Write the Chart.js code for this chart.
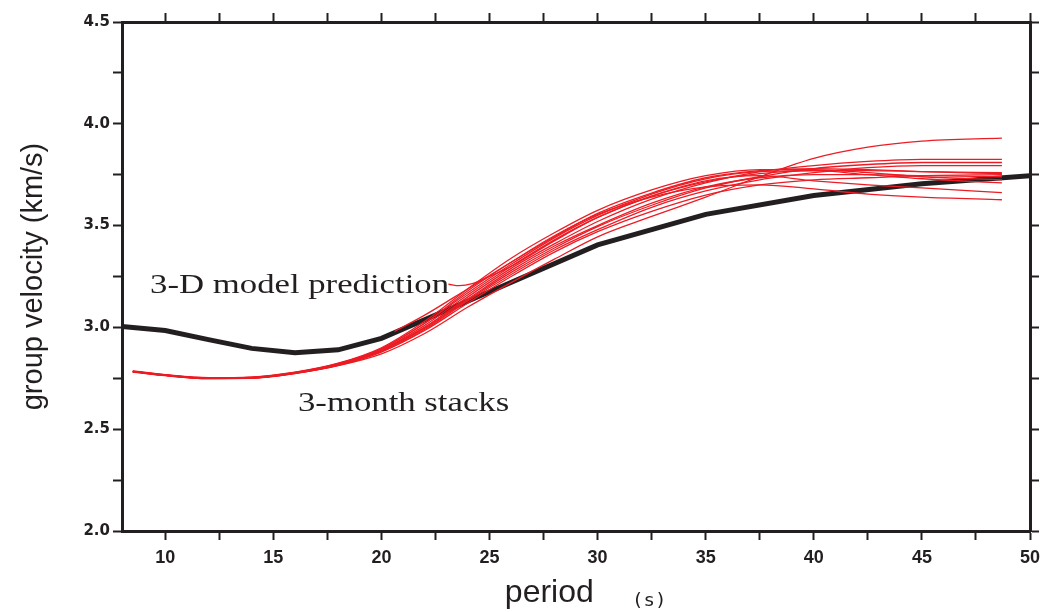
<!DOCTYPE html>
<html>
<head>
<meta charset="utf-8">
<script src="https://cdn.jsdelivr.net/npm/chart.js@4"></script>
<style>
  body { margin: 0; background: #fff; }
</style>
</head>
<body>
<canvas id="myChart" width="1049" height="612"></canvas>
<script>
const ctx = document.getElementById('myChart');

const INK = '#231f20';
const RED = '#ec1c24';

// 3-D model prediction
const modelPeriods = [8, 10, 12, 14, 16, 18, 20, 25, 30, 35, 40, 45, 50];
const modelVelocity = [3.005, 2.985, 2.94, 2.897, 2.875, 2.89, 2.946, 3.175, 3.405, 3.555, 3.648, 3.705, 3.745];

// 3-month stacks, common period grid
const stackPeriods = [8.5, 10, 12, 14, 16, 18, 20, 22, 24, 26, 28, 30, 32.5, 35, 37.5, 40, 42.5, 45, 48.7];
const stack1  = [2.783, 2.765, 2.750, 2.752, 2.775, 2.812, 2.870, 2.970, 3.100, 3.220, 3.335, 3.445, 3.545, 3.640, 3.740, 3.830, 3.885, 3.915, 3.930];
const stack2  = [2.784, 2.766, 2.751, 2.754, 2.778, 2.820, 2.890, 3.000, 3.150, 3.290, 3.410, 3.520, 3.630, 3.710, 3.765, 3.795, 3.815, 3.825, 3.825];
const stack3  = [2.782, 2.764, 2.749, 2.751, 2.774, 2.815, 2.880, 2.990, 3.130, 3.260, 3.380, 3.480, 3.590, 3.670, 3.725, 3.760, 3.785, 3.795, 3.795];
const stack4  = [2.785, 2.767, 2.752, 2.755, 2.779, 2.822, 2.895, 3.020, 3.180, 3.320, 3.450, 3.555, 3.640, 3.690, 3.700, 3.680, 3.655, 3.640, 3.627];
const stack5  = [2.783, 2.765, 2.751, 2.753, 2.777, 2.820, 2.890, 3.010, 3.160, 3.300, 3.430, 3.540, 3.645, 3.720, 3.745, 3.720, 3.700, 3.685, 3.662];
const stack6  = [2.782, 2.764, 2.750, 2.752, 2.776, 2.817, 2.885, 3.000, 3.140, 3.280, 3.400, 3.500, 3.610, 3.690, 3.735, 3.750, 3.750, 3.745, 3.740];
const stack7  = [2.786, 2.768, 2.753, 2.756, 2.780, 2.824, 2.900, 3.030, 3.190, 3.340, 3.465, 3.575, 3.675, 3.745, 3.775, 3.775, 3.760, 3.740, 3.725];
const stack8  = [2.784, 2.766, 2.752, 2.754, 2.778, 2.822, 2.895, 3.020, 3.170, 3.310, 3.440, 3.550, 3.655, 3.730, 3.765, 3.770, 3.750, 3.730, 3.710];
const stack9  = [2.781, 2.763, 2.749, 2.750, 2.773, 2.813, 2.880, 2.985, 3.120, 3.250, 3.370, 3.470, 3.570, 3.650, 3.700, 3.725, 3.735, 3.745, 3.750];
const stack10 = [2.783, 2.765, 2.750, 2.752, 2.776, 2.816, 2.885, 2.995, 3.135, 3.270, 3.390, 3.495, 3.600, 3.685, 3.740, 3.780, 3.800, 3.810, 3.810];

// two shorter stacks that start later
const stack11Periods = [20.6, 22, 24, 26, 28, 30, 32.5, 35, 37.5, 40, 42.5, 45, 48.7];
const stack11 = [2.980, 3.060, 3.190, 3.320, 3.445, 3.560, 3.660, 3.735, 3.770, 3.780, 3.775, 3.765, 3.755];
const stack12Periods = [23.1, 23.6, 24.2, 25, 26, 28, 30, 32.5, 35, 37.5, 40, 42.5, 45, 48.7];
const stack12 = [3.212, 3.205, 3.215, 3.250, 3.300, 3.425, 3.540, 3.645, 3.715, 3.755, 3.770, 3.770, 3.765, 3.760];

const xTicksMajor = [10, 15, 20, 25, 30, 35, 40, 45, 50];
const yTicksMajor = [2.0, 2.5, 3.0, 3.5, 4.0, 4.5];

function pts(xs, ys) {
  const out = [];
  for (let i = 0; i < xs.length; i++) {
    out.push({ x: xs[i], y: ys[i] });
  }
  return out;
}

const stacks = [
  [stackPeriods, stack1], [stackPeriods, stack2], [stackPeriods, stack3],
  [stackPeriods, stack4], [stackPeriods, stack5], [stackPeriods, stack6],
  [stackPeriods, stack7], [stackPeriods, stack8], [stackPeriods, stack9],
  [stackPeriods, stack10], [stack11Periods, stack11], [stack12Periods, stack12]
];

const datasets = [];
for (let i = 0; i < stacks.length; i++) {
  datasets.push({
    label: 'stack ' + (i + 1),
    data: pts(stacks[i][0], stacks[i][1]),
    borderColor: RED,
    borderWidth: 1.3,
    pointRadius: 0,
    cubicInterpolationMode: 'monotone',
    fill: false
  });
}
datasets.push({
  label: '3-D model prediction',
  data: pts(modelPeriods, modelVelocity),
  borderColor: INK,
  borderWidth: 5,
  pointRadius: 0,
  tension: 0,
  fill: false
});

// text on the plot
function stretchedText(c, text, x, y, font, sx) {
  c.save();
  c.font = font;
  c.fillStyle = INK;
  c.textBaseline = 'alphabetic';
  c.textAlign = 'left';
  c.translate(x, y);
  c.scale(sx, 1);
  c.fillText(text, 0, 0);
  c.restore();
}

const textLabels = {
  id: 'textLabels',
  afterDraw(chart) {
    const c = chart.ctx;
    const xs = chart.scales.x;
    const ys = chart.scales.y;
    stretchedText(c, '3-D model prediction', xs.getPixelForValue(9.3), ys.getPixelForValue(3.167), '28px "Liberation Serif"', 1.24);
    stretchedText(c, '3-month stacks', xs.getPixelForValue(16.14), ys.getPixelForValue(2.59), '28px "Liberation Serif"', 1.24);
    stretchedText(c, '(s)', 632, 606, '17px "DejaVu Sans Mono"', 1.12);
  }
};

const isMajor = (v, list) => list.some(m => Math.abs(m - v) < 1e-6);

const frameGrid = {
  drawOnChartArea: false,
  drawTicks: true,
  tickLength: 9,
  tickWidth: 2,
  tickColor: INK
};
const frameBorder = { display: true, width: 3, color: INK };

const myChart = new Chart(ctx, {
  type: 'line',
  data: { datasets: datasets },
  options: {
    responsive: false,
    animation: false,
    layout: { padding: 0 },
    plugins: {
      legend: { display: false },
      tooltip: { enabled: false }
    },
    scales: {
      x: {
        type: 'linear',
        position: 'bottom',
        min: 8,
        max: 50,
        ticks: {
          stepSize: 2.5,
          autoSkip: false,
          includeBounds: false,
          maxRotation: 0,
          padding: 7,
          color: INK,
          font: { family: 'Liberation Sans', weight: 'bold', size: 18 },
          callback: (v) => isMajor(v, xTicksMajor) ? String(v) : ''
        },
        grid: frameGrid,
        border: frameBorder,
        title: {
          display: true,
          text: 'period      ',
          color: INK,
          font: { family: 'Liberation Sans', size: 32 },
          padding: { top: 0, bottom: 0 }
        },
        afterFit: (s) => { s.height = 81; }
      },
      x2: {
        type: 'linear',
        position: 'top',
        min: 8,
        max: 50,
        ticks: { stepSize: 2.5, autoSkip: false, includeBounds: false, display: false },
        grid: frameGrid,
        border: frameBorder,
        afterFit: (s) => { s.height = 22; }
      },
      y: {
        type: 'linear',
        position: 'left',
        min: 2,
        max: 4.5,
        ticks: {
          stepSize: 0.25,
          autoSkip: false,
          padding: 3,
          color: INK,
          font: { family: 'DejaVu Sans', weight: 'bold', size: 15 },
          callback: (v) => isMajor(v, yTicksMajor) ? v.toFixed(1) : ''
        },
        grid: frameGrid,
        border: frameBorder,
        title: {
          display: true,
          text: 'group velocity (km/s)',
          color: INK,
          font: { family: 'Liberation Sans', size: 29 },
          padding: { top: 17, bottom: 0 }
        },
        afterFit: (s) => { s.width = 122; }
      },
      y2: {
        type: 'linear',
        position: 'right',
        min: 2,
        max: 4.5,
        ticks: { stepSize: 0.25, autoSkip: false, display: false },
        grid: frameGrid,
        border: frameBorder,
        afterFit: (s) => { s.width = 19; }
      }
    }
  },
  plugins: [textLabels]
});
</script>
</body>
</html>
